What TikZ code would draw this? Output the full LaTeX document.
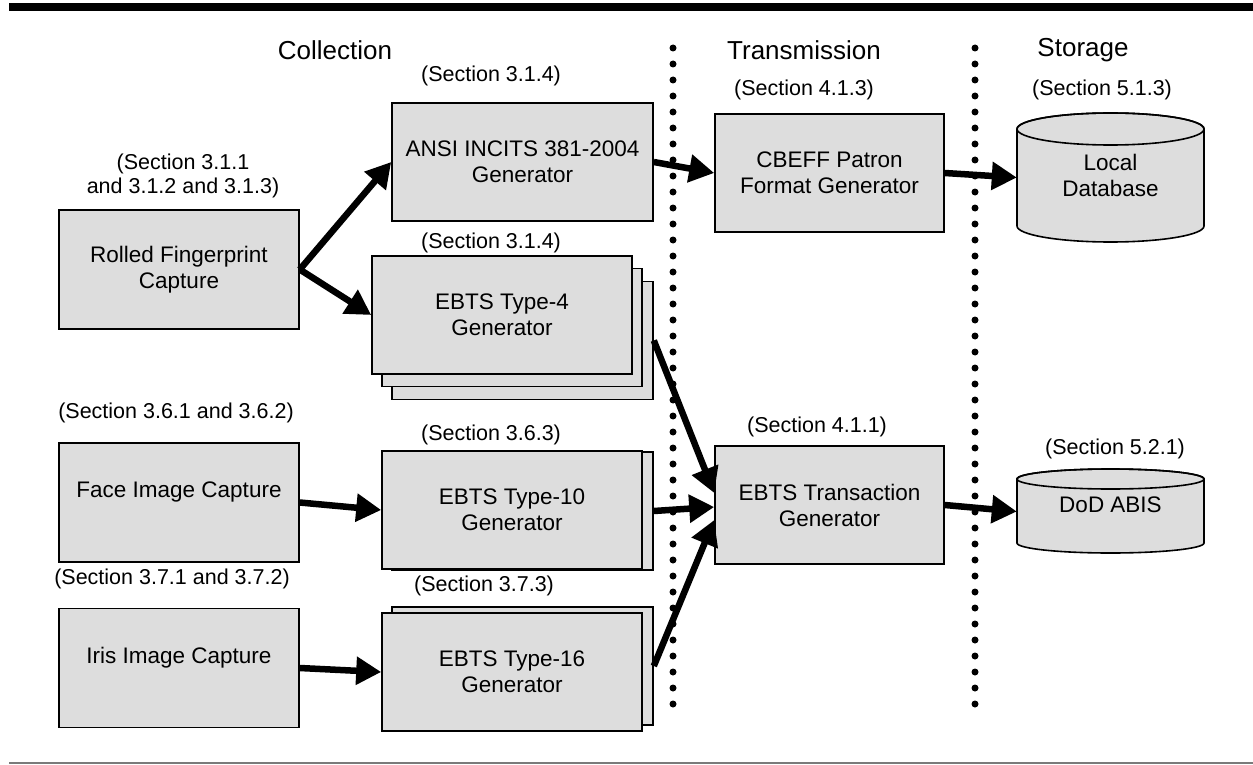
\documentclass[tikz,border=0pt]{standalone}
\usepackage{fontspec}
\setmainfont{Liberation Sans}
\usetikzlibrary{arrows.meta}
\definecolor{boxgray}{HTML}{DDDDDD}
\definecolor{rulegray}{HTML}{7A7A7A}
\begin{document}
\begin{tikzpicture}[x=1pt,y=-1pt,
  box/.style={draw=black, line width=1.6pt, fill=boxgray, align=center,
    font=\fontsize{22.5}{26}\selectfont, inner sep=0pt},
  capbox/.style={box, minimum width=240pt, minimum height=119pt},
  genbox/.style={box, minimum width=260pt, minimum height=118pt},
  midbox/.style={box, minimum width=229pt, minimum height=118pt},
  seclabel/.style={align=center, font=\fontsize{21.5}{24}\selectfont, inner sep=0pt},
  heading/.style={font=\fontsize{26}{30}\selectfont, inner sep=0pt},
  dbtext/.style={align=center, font=\fontsize{22.5}{26}\selectfont, inner sep=0pt},
  dbbody/.style={inner sep=0pt, minimum width=187pt},
  dotline/.style={line width=7pt, line cap=round, dash pattern=on 0pt off 16pt},
  arr/.style={line width=6.5pt, -{Triangle[length=25pt 0 0,width=27pt 0]}}
]
\useasboundingbox (0,0) rectangle (1253,765);

% rules
\fill[black] (9,3) rectangle (1253,11);
\draw[rulegray, line width=1.5pt] (9,763) -- (1253,763);

% headings
\node[heading] (hcol) at (335,50) {Collection};
\node[heading] (htra) at (804,50) {Transmission};
\node[heading] (hsto) at (1083,50) {Storage};

% dotted separators
\draw[dotline] (673,48) -- (673,720);
\draw[dotline] (975,48) -- (975,720);

% capture boxes
\node[capbox] (rolled) at (179,269.5) {Rolled Fingerprint\\Capture};
\node[capbox] (face) at (179,502.5) {Face Image Capture\\\phantom{X}};
\node[capbox] (iris) at (179,668) {Iris Image Capture\\\phantom{X}};

% generators
\node[genbox, minimum width=261pt] (ansi) at (522.5,162) {ANSI INCITS 381-2004\\Generator};

\node[genbox, minimum width=261pt] (t4c) at (522.5,340.5) {};
\node[genbox] (t4b) at (512,327.5) {};
\node[genbox] (t4) at (502,315) {EBTS Type-4\\Generator};

\node[genbox, minimum width=261pt] (t10b) at (522.5,511) {};
\node[genbox] (t10) at (512,510) {EBTS Type-10\\Generator};

\node[genbox, minimum width=261pt] (t16b) at (522.5,666) {};
\node[genbox] (t16) at (512,672) {EBTS Type-16\\Generator};

% transmission
\node[midbox] (cbeff) at (829.5,173) {CBEFF Patron\\Format Generator};
\node[midbox] (trans) at (829.5,505) {EBTS Transaction\\Generator};

% storage cylinders
\path[fill=boxgray, draw=black, line width=1.6pt] (1017,129) -- (1017,226)
  arc[start angle=180, end angle=360, x radius=93.5pt, y radius=16pt]
  -- (1204,129)
  arc[start angle=0, end angle=180, x radius=93.5pt, y radius=16pt] -- cycle;
\draw[line width=1.6pt] (1110.5,129) ellipse[x radius=93.5pt, y radius=16pt];
\node[dbbody, minimum height=129pt] (ldb) at (1110.5,177.5) {};
\node[dbtext] (ldbtext) at (1110.5,175.5) {Local\\Database};

\path[fill=boxgray, draw=black, line width=1.6pt] (1017,479) -- (1017,543)
  arc[start angle=180, end angle=360, x radius=93.5pt, y radius=10pt]
  -- (1204,479)
  arc[start angle=0, end angle=180, x radius=93.5pt, y radius=10pt] -- cycle;
\draw[line width=1.6pt] (1110.5,479) ellipse[x radius=93.5pt, y radius=10pt];
\node[dbbody, minimum height=84pt] (dod) at (1110.5,511.5) {};
\node[dbtext] (dodtext) at (1110.5,505) {DoD ABIS};

% section labels
\node[seclabel] (s1) at (183,176) {(Section 3.1.1\\and 3.1.2 and 3.1.3)};
\node[seclabel] (s2) at (491,76) {(Section 3.1.4)};
\node[seclabel] (s3) at (491,243) {(Section 3.1.4)};
\node[seclabel] (s4) at (804,90) {(Section 4.1.3)};
\node[seclabel] (s5) at (1102,90) {(Section 5.1.3)};
\node[seclabel] (s6) at (176,413) {(Section 3.6.1 and 3.6.2)};
\node[seclabel] (s7) at (491,435) {(Section 3.6.3)};
\node[seclabel] (s8) at (172,579) {(Section 3.7.1 and 3.7.2)};
\node[seclabel] (s9) at (484,586) {(Section 3.7.3)};
\node[seclabel] (s10) at (817,427) {(Section 4.1.1)};
\node[seclabel] (s11) at (1115,449) {(Section 5.2.1)};

% connectors
\draw[arr] (rolled.east) -- (ansi.west);
\draw[arr] (rolled.east) -- (t4.west);
\draw[arr] (face.east) -- (t10.west);
\draw[arr] (iris.east) -- (t16.west);
\draw[arr] (ansi.east) -- (cbeff.west);
\draw[arr] (cbeff.east) -- (ldb.west);
\draw[arr] (t4c.east) -- ([yshift=12pt]trans.west);
\draw[arr] (t10b.east) -- ([yshift=-2pt]trans.west);
\draw[arr] (t16b.east) -- ([yshift=-15pt]trans.west);
\draw[arr] (trans.east) -- (dod.west);
\end{tikzpicture}
\end{document}
